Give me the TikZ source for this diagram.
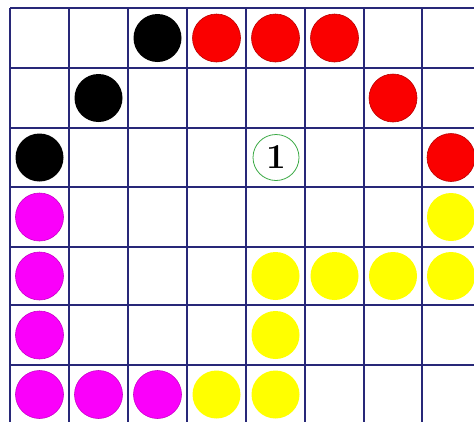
\documentclass[tikz,border=0pt]{standalone}
\definecolor{gridblue}{RGB}{40,40,120}
\definecolor{stonered}{RGB}{250,0,0}
\definecolor{stonemag}{RGB}{250,0,250}
\definecolor{stoneyel}{RGB}{255,255,0}
\definecolor{markgreen}{RGB}{60,170,70}
\begin{document}
\begin{tikzpicture}[x=1pt,y=-1pt,
  gridline/.style={draw=gridblue, line width=2pt},
  stone/.style={circle, inner sep=0pt, minimum size=48pt},
  blk/.style={stone, fill=black},
  red/.style={stone, fill=stonered, draw=stonered!75!black, line width=0.6pt},
  mag/.style={stone, fill=stonemag, draw=stonemag!80!black, line width=0.6pt},
  yel/.style={stone, fill=stoneyel},
  marker/.style={circle, inner sep=0pt, minimum size=46pt, draw=markgreen, line width=0.8pt,
    font=\fontsize{35}{35}\selectfont\bfseries}]
\useasboundingbox (0,0) rectangle (474,421);
\fill[white] (0,0) rectangle (474,421);
\clip (0,0) rectangle (474,421);
\foreach \x in {10,69,128,187,246,305,364,422} \draw[gridline] (\x,8) -- (\x,430);
\foreach \y in {8,68,128,187,247,305,365} \draw[gridline] (10,\y) -- (480,\y);
% row 1
\node[blk] (b1) at (157.5,38) {};
\node[red] (r1) at (216.5,38) {};
\node[red] (r2) at (275.5,38) {};
\node[red] (r3) at (334.5,38) {};
% row 2
\node[blk] (b2) at (98.5,98) {};
\node[red] (r4) at (393,98) {};
% row 3
\node[blk] (b3) at (39.5,157.5) {};
\node[marker] (n1) at (276,157.5) {1};
\node[red] (r5) at (451,157.5) {};
% row 4
\node[mag] (m1) at (39.5,217) {};
\node[yel] (y1) at (451,217) {};
% row 5
\node[mag] (m2) at (39.5,276) {};
\node[yel] (y2) at (275.5,276) {};
\node[yel] (y3) at (334.5,276) {};
\node[yel] (y4) at (393,276) {};
\node[yel] (y5) at (451,276) {};
% row 6
\node[mag] (m3) at (39.5,335) {};
\node[yel] (y6) at (275.5,335) {};
% row 7
\node[mag] (m4) at (39.5,394.5) {};
\node[mag] (m5) at (98.5,394.5) {};
\node[mag] (m6) at (157.5,394.5) {};
\node[yel] (y7) at (216.5,394.5) {};
\node[yel] (y8) at (275.5,394.5) {};
\end{tikzpicture}
\end{document}
